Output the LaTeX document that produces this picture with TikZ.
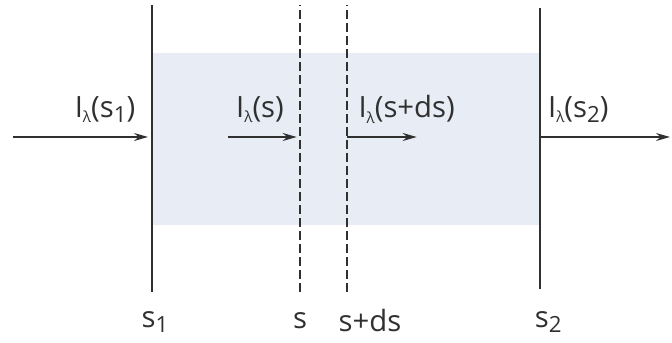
\documentclass[tikz,border=0pt]{standalone}
\usepackage{fontspec}
\setmainfont{Open Sans}
\usetikzlibrary{arrows.meta}

\definecolor{fondoblu}{HTML}{E7ECF5}
\definecolor{grigioscuro}{HTML}{303030}

\newcommand{\basso}[2]{\raisebox{-0.35ex}{\fontsize{#1}{#1}\selectfont #2}}
\newcommand{\Ilam}{I\basso{13}{λ}}

\begin{document}
\begin{tikzpicture}[
  font=\fontsize{25}{30}\selectfont,
  piena/.style={draw=grigioscuro, line width=2pt},
  tratteggio/.style={draw=grigioscuro, line width=1.7pt,
                     dash pattern=on 0.27cm off 0.12cm},
  freccia/.style={draw=grigioscuro, line width=1.2pt,
                  -{Stealth[length=0.42cm, width=0.24cm]}},
  etichetta/.style={inner sep=1pt, text=grigioscuro}
]

\useasboundingbox (0,0) rectangle (20.16,10.29);

%--------------------------------------------------------------
% Strato assorbente tra s1 e s2
%--------------------------------------------------------------
\fill[fondoblu] (4.56,3.54) rectangle (16.20,8.70);

%--------------------------------------------------------------
% Superfici: s1 e s2 piene, s e s+ds tratteggiate
%--------------------------------------------------------------
\draw[piena] (4.56,1.53) -- (4.56,10.14);
\draw[piena] (16.20,1.62) -- (16.20,10.05);
\draw[tratteggio] (9.00,1.53) -- (9.00,10.14);
\draw[tratteggio] (10.41,1.53) -- (10.41,10.14);

% punti di attacco delle frecce
\coordinate (ingresso) at (0.39,6.18);
\coordinate (p1)   at (4.44,6.18);
\coordinate (ps0)  at (6.84,6.18);
\coordinate (ps)   at (8.90,6.18);
\coordinate (pds)  at (10.41,6.18);
\coordinate (pds1) at (12.50,6.18);
\coordinate (p2)   at (16.20,6.18);
\coordinate (uscita) at (20.10,6.18);

%--------------------------------------------------------------
% Frecce dell'intensita'
%--------------------------------------------------------------
\draw[freccia] (ingresso) -- (p1);
\draw[freccia] (ps0) -- (ps);
\draw[freccia] (pds) -- (pds1);
\draw[freccia] (p2) -- (uscita);

%--------------------------------------------------------------
% Etichette delle intensita'
%--------------------------------------------------------------
\node[etichetta] (Is1)  at (3.15,7.00)  {\Ilam(s\basso{19}{1})};
\node[etichetta] (Is)   at (7.80,7.00)  {\Ilam(s)};
\node[etichetta] (Isds) at (12.20,7.00) {\Ilam(s+ds)};
\node[etichetta] (Is2)  at (17.35,7.00) {\Ilam(s\basso{19}{2})};

%--------------------------------------------------------------
% Posizioni lungo il cammino
%--------------------------------------------------------------
\node[etichetta] (s1)  at (4.65,0.63)  {s\basso{19}{1}};
\node[etichetta] (s)   at (9.00,0.66)  {s};
\node[etichetta] (sds) at (11.10,0.66) {s+ds};
\node[etichetta] (s2)  at (16.45,0.63) {s\basso{19}{2}};

\end{tikzpicture}
\end{document}
